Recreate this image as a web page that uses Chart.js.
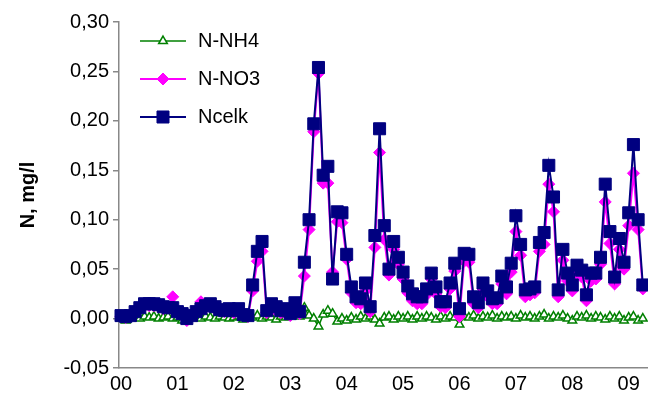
<!DOCTYPE html>
<html><head><meta charset="utf-8">
<script src="https://cdn.jsdelivr.net/npm/chart.js@4/dist/chart.umd.min.js"></script>
<style>html,body{margin:0;padding:0;background:#fff}#wrap{width:648px;height:412px;position:relative}</style>
</head><body><div id="wrap"><canvas id="c" width="648" height="412"></canvas></div>
<script>
const yearLabels = ['00','01','02','03','04','05','06','07','08','09'];
const yTickValues = [-0.05, 0, 0.05, 0.10, 0.15, 0.20, 0.25, 0.30];
const seriesNames = ['N-NH4', 'N-NO3', 'Ncelk'];
// monthly samples, Jan 2000 .. Apr 2009
const nNH4 = [
 0.000,-0.002,0.001,0.002,0.000,0.002,0.001,0.002,0.000,0.001,0.002,0.000,
 0.001,-0.002,0.002,0.001,0.002,0.000,0.002,0.001,0.000,0.002,0.001,0.000,
 0.001,0.002,-0.001,0.002,0.001,0.003,0.000,0.002,0.001,-0.001,0.002,0.001,
 0.003,0.004,0.002,0.011,0.003,0.000,-0.008,0.004,0.008,0.005,-0.003,0.000,
 -0.002,0.001,-0.001,0.002,0.000,0.002,-0.001,-0.005,0.001,0.002,-0.001,0.002,
 0.000,0.002,-0.001,0.002,0.000,0.002,0.001,-0.001,0.002,0.000,0.002,0.001,
 -0.006,0.002,0.001,0.003,0.000,0.002,0.001,0.003,0.000,0.002,0.001,0.002,
 0.000,0.003,0.001,0.002,0.000,0.002,0.004,0.000,0.002,0.001,0.003,0.000,
 -0.002,0.002,0.001,0.003,0.000,0.002,0.001,-0.001,0.002,0.000,0.002,-0.002,
 0.001,0.002,-0.002,0.000
];
const nNO3 = [
 0.002,0.001,0.002,0.006,0.010,0.013,0.013,0.013,0.012,0.010,0.011,0.022,
 0.006,0.004,-0.002,0.002,0.006,0.017,0.011,0.013,0.010,0.008,0.007,0.008,
 0.006,0.008,0.003,0.002,0.028,0.058,0.068,0.006,0.010,0.008,0.006,0.005,
 0.003,0.013,0.005,0.043,0.090,0.189,0.248,0.137,0.137,0.047,0.098,0.097,
 0.060,0.026,0.016,0.015,0.028,0.007,0.072,0.168,0.080,0.044,0.070,0.055,
 0.040,0.026,0.018,0.015,0.015,0.024,0.040,0.025,0.012,0.011,0.030,0.048,
 0.002,0.058,0.057,0.015,0.011,0.030,0.022,0.015,0.015,0.035,0.025,0.047,
 0.088,0.064,0.022,0.024,0.026,0.068,0.075,0.136,0.108,0.022,0.059,0.038,
 0.028,0.047,0.042,0.018,0.038,0.040,0.055,0.118,0.076,0.035,0.070,0.050,
 0.094,0.147,0.090,0.030
];
const nCelk = [
 0.003,0.002,0.003,0.007,0.011,0.015,0.015,0.015,0.014,0.012,0.011,0.011,
 0.007,0.005,0.000,0.003,0.007,0.010,0.013,0.015,0.012,0.009,0.008,0.010,
 0.008,0.010,0.004,0.003,0.034,0.068,0.078,0.008,0.015,0.012,0.008,0.010,
 0.005,0.016,0.007,0.057,0.100,0.197,0.254,0.145,0.154,0.040,0.108,0.107,
 0.065,0.032,0.022,0.020,0.036,0.012,0.084,0.192,0.094,0.050,0.078,0.062,
 0.047,0.033,0.025,0.022,0.022,0.030,0.046,0.032,0.017,0.017,0.036,0.056,
 0.010,0.066,0.065,0.022,0.016,0.036,0.028,0.020,0.021,0.043,0.032,0.056,
 0.104,0.075,0.029,0.030,0.032,0.077,0.087,0.155,0.123,0.029,0.070,0.046,
 0.034,0.054,0.049,0.024,0.046,0.046,0.062,0.136,0.088,0.042,0.081,0.057,
 0.107,0.176,0.100,0.034
];
const yTitle = 'N, mg/l';

const toXY = arr => arr.map((v, i) => ({x: i, y: v}));
const FONT = "'Liberation Sans', Arial, sans-serif";

const styles = [
  {color:'#008000', style:'triangle', radius:5, fill:'#ffffff', bw:1.5, pbw:1.5},
  {color:'#ff00ff', style:'rectRot', radius:6, fill:'#ff00ff', bw:2, pbw:1},
  {color:'#000080', style:'rect', radius:8.5, fill:'#000080', bw:2, pbw:1}
];
const seriesData = [nNH4, nNO3, nCelk];

const legendPlugin = {
  id: 'customLegend',
  afterDraw(chart) {
    const ctx = chart.ctx;
    const rows = [41, 79, 117];
    ctx.save();
    seriesNames.forEach((name, k) => {
      const s = styles[k];
      const y = rows[k];
      ctx.strokeStyle = s.color;
      ctx.lineWidth = s.bw;
      ctx.beginPath(); ctx.moveTo(140, y); ctx.lineTo(186, y); ctx.stroke();
      ctx.fillStyle = s.fill; ctx.strokeStyle = s.color; ctx.lineWidth = s.pbw;
      ctx.beginPath();
      if (s.style === 'triangle') {
        const r = s.radius;
        ctx.moveTo(163, y - r);
        ctx.lineTo(163 + r*Math.cos(Math.PI/6), y + r*0.5);
        ctx.lineTo(163 - r*Math.cos(Math.PI/6), y + r*0.5);
        ctx.closePath();
      } else if (s.style === 'rectRot') {
        const r = s.radius;
        ctx.moveTo(163, y - r); ctx.lineTo(163 + r, y); ctx.lineTo(163, y + r); ctx.lineTo(163 - r, y); ctx.closePath();
      } else {
        const h = s.radius * Math.SQRT1_2;
        ctx.rect(163 - h, y - h, 2*h, 2*h);
      }
      ctx.fill(); ctx.stroke();
      ctx.fillStyle = '#000';
      ctx.font = '20px ' + FONT;
      ctx.textBaseline = 'middle';
      ctx.textAlign = 'left';
      ctx.fillText(name, 198, y);
    });
    ctx.translate(28, 195);
    ctx.rotate(-Math.PI/2);
    ctx.font = 'bold 20px ' + FONT;
    ctx.textAlign = 'center';
    ctx.textBaseline = 'middle';
    ctx.fillStyle = '#000';
    ctx.fillText(yTitle, 0, 0);
    ctx.restore();
  }
};

new Chart(document.getElementById('c'), {
  type: 'line',
  data: {
    datasets: seriesData.map((arr, k) => ({
      label: seriesNames[k],
      data: toXY(arr),
      borderColor: styles[k].color,
      borderWidth: styles[k].bw,
      pointStyle: styles[k].style,
      pointRadius: styles[k].radius,
      pointBackgroundColor: styles[k].fill,
      pointBorderColor: styles[k].color,
      pointBorderWidth: styles[k].pbw,
      tension: 0,
      fill: false,
      clip: false,
      order: 2 - k
    }))
  },
  options: {
    responsive: false,
    animation: false,
    devicePixelRatio: 1,
    events: [],
    layout: {autoPadding: false, padding: {top: 22, right: 0, left: 0, bottom: 0}},
    plugins: {legend: {display: false}, tooltip: {enabled: false}},
    scales: {
      x: {
        type: 'linear',
        min: -0.43,
        max: 112.1,
        afterBuildTicks: s => { s.ticks = yearLabels.map((_, k) => ({value: k*12})); },
        afterFit: s => { s.height = 44; s.paddingRight = 0; },
        ticks: {
          callback: (v) => yearLabels[Math.round(v/12)],
          font: {size: 20, family: FONT},
          color: '#000',
          padding: 4,
          maxRotation: 0,
          autoSkip: false
        },
        grid: {display: false, drawTicks: false},
        border: {display: true, color: '#888', width: 1.5}
      },
      y: {
        type: 'linear',
        min: -0.05,
        max: 0.30,
        afterBuildTicks: s => { s.ticks = yTickValues.map(v => ({value: v})); },
        afterFit: s => { s.width = 119; },
        ticks: {
          callback: v => v.toFixed(2).replace('.', ','),
          font: {size: 20, family: FONT},
          color: '#000',
          padding: 4
        },
        grid: {drawOnChartArea: false, drawTicks: true, tickLength: 6, color: '#888', lineWidth: 1.5},
        border: {display: true, color: '#888', width: 1.5}
      }
    }
  },
  plugins: [legendPlugin]
});
</script>
</body></html>
